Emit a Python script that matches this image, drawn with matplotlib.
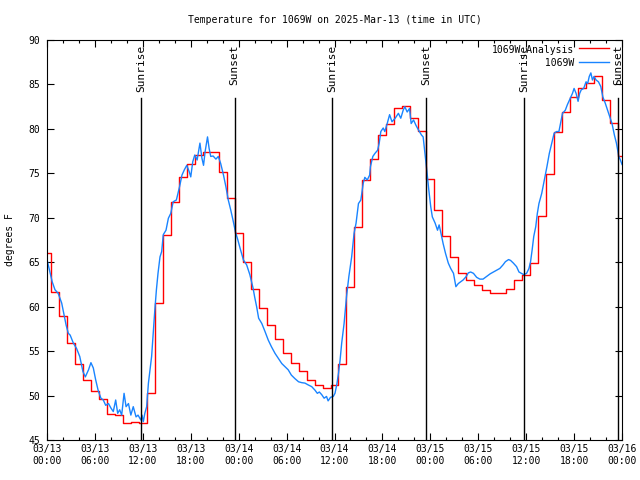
# temperature chart for station 1069W, analysis vs observed
import pandas as pd
import matplotlib
matplotlib.use('Agg')
import matplotlib.pyplot as plt
import matplotlib.dates as mdates

plt.rcParams['font.family'] = ['DejaVu Sans Mono']
plt.rcParams['font.size'] = 7

start = pd.Timestamp('2025-03-13 00:00')

# hourly analysis values (deg F), 03/13 00:00 .. 03/16 00:00
analysis_temp = [66.0, 61.6, 58.9, 55.9, 53.6, 51.7, 50.5, 49.6, 47.9, 47.8,
                 46.9, 47.0, 46.9, 50.3, 60.4, 68.1, 71.8, 74.55, 76.0, 77.06,
                 77.4, 77.4, 75.2, 72.2, 68.3, 65.0, 61.95, 59.8, 57.9, 56.4,
                 54.75, 53.7, 52.8, 51.8, 51.2, 50.8, 51.2, 53.6, 62.25, 69.0,
                 74.25, 76.6, 79.3, 80.6, 82.4, 82.6, 81.2, 79.8, 74.4, 70.9,
                 67.9, 65.6, 63.75, 63.0, 62.4, 61.9, 61.5, 61.5, 61.95, 63.0,
                 63.6, 64.9, 70.2, 74.9, 79.6, 81.9, 83.55, 84.55, 85.2, 85.95,
                 83.3, 80.7, 76.9]

# station observations: hours after start, temperature
obs_hours = [0.0, 0.37, 0.65, 1.0, 1.4, 1.84, 2.1, 2.4, 2.67, 2.9,
             3.3, 3.7, 4.1, 4.5, 4.8, 5.2, 5.5, 5.8, 6.1, 6.4,
             6.75, 7.05, 7.35, 7.7, 8.0, 8.3, 8.6, 8.85, 9.1, 9.35,
             9.65, 9.9, 10.2, 10.5, 10.8, 11.15, 11.4, 11.75, 11.9, 12.06,
             12.25, 12.48, 12.7, 12.9, 13.1, 13.3, 13.5, 13.7, 13.9, 14.15,
             14.36, 14.56, 14.9, 15.2, 15.5, 15.8, 16.2, 16.6, 16.9, 17.2,
             17.5, 17.8, 18.0, 18.25, 18.5, 18.8, 19.15, 19.4, 19.6, 19.8,
             20.1, 20.3, 20.5, 20.8, 21.15, 21.45, 21.75, 22.1, 22.4, 22.7,
             23.0, 23.3, 23.6, 23.9, 24.2, 24.6, 25.0, 25.4, 25.8, 26.0,
             26.25, 26.5, 26.9, 27.3, 27.7, 28.1, 28.55, 28.96, 29.4, 29.8,
             30.2, 30.6, 31.05, 31.5, 31.9, 32.3, 32.7, 33.15, 33.56, 33.85,
             34.1, 34.4, 34.7, 35.0, 35.2, 35.5, 35.85, 36.06, 36.3, 36.5,
             36.7, 36.9, 37.2, 37.5, 37.8, 38.15, 38.45, 38.7, 39.0, 39.3,
             39.6, 39.8, 40.1, 40.4, 40.5, 40.8, 41.07, 41.4, 41.6, 41.8,
             42.1, 42.3, 42.6, 42.9, 43.2, 43.6, 44.0, 44.3, 44.6, 44.8,
             45.1, 45.4, 45.6, 45.9, 46.2, 46.5, 46.9, 47.1, 47.3, 47.55,
             47.8, 48.05, 48.25, 48.6, 48.9, 49.1, 49.3, 49.6, 49.9, 50.25,
             50.55, 50.9, 51.2, 51.5, 51.8, 52.1, 52.5, 52.75, 53.05, 53.4,
             53.8, 54.2, 54.6, 55.06, 55.5, 55.9, 56.3, 56.7, 57.1, 57.4,
             57.8, 58.05, 58.4, 58.8, 59.1, 59.4, 59.7, 60.05, 60.35, 60.55,
             60.75, 60.95, 61.2, 61.4, 61.6, 61.95, 62.2, 62.6, 62.9, 63.2,
             63.5, 63.8, 64.1, 64.3, 64.55, 64.9, 65.15, 65.5, 65.8, 66.0,
             66.25, 66.5, 66.7, 66.9, 67.2, 67.5, 67.7, 67.9, 68.1, 68.3,
             68.5, 68.75, 69.05, 69.35, 69.6, 69.9, 70.2, 70.45, 70.75, 71.05,
             71.3, 71.6, 71.8, 72.0]
obs_temp = [65.3, 63.9, 62.8, 61.9, 61.5, 60.4, 59.25, 57.9, 57.0, 56.8,
            55.9, 55.3, 54.4, 52.7, 52.1, 52.9, 53.7, 53.1, 51.75, 50.6,
            49.7, 49.5, 48.9, 49.1, 48.6, 48.2, 49.5, 48.0, 48.4, 47.8,
            50.25, 48.75, 49.1, 47.8, 48.75, 47.6, 47.8, 47.25, 47.8, 47.06,
            48.0, 48.75, 51.4, 52.9, 54.4, 57.0, 59.6, 61.9, 63.75, 65.6,
            66.2, 68.1, 68.6, 69.95, 70.5, 71.8, 72.0, 73.5, 74.8, 75.4,
            75.9, 75.2, 74.6, 76.3, 77.06, 76.5, 78.4, 76.7, 75.9, 77.45,
            79.1, 77.8, 76.9, 76.95, 76.6, 76.9, 76.1, 74.8, 73.5, 72.0,
            70.9, 69.7, 68.4, 67.5, 66.5, 65.25, 64.7, 63.6, 62.1, 61.1,
            60.0, 58.7, 58.1, 57.2, 56.25, 55.5, 54.75, 54.2, 53.6, 53.25,
            52.9, 52.3, 51.9, 51.55, 51.45, 51.4, 51.2, 51.0, 50.6, 50.25,
            50.4, 50.1, 49.7, 49.9, 49.4, 49.8, 49.9, 50.25, 51.3, 52.5,
            54.0, 55.9, 58.1, 61.1, 63.4, 65.6, 68.25, 69.4, 71.6, 72.0,
            73.9, 74.55, 74.25, 74.8, 75.75, 76.9, 77.25, 77.6, 78.4, 79.7,
            80.1, 79.7, 80.6, 81.6, 80.8, 81.2, 81.75, 81.2, 82.1, 82.5,
            81.9, 82.3, 80.6, 81.0, 80.4, 79.9, 79.3, 79.1, 77.5, 75.4,
            73.2, 71.25, 70.1, 69.4, 68.6, 69.2, 68.4, 67.1, 66.0, 64.9,
            64.3, 63.75, 62.25, 62.6, 62.8, 63.0, 63.4, 63.8, 63.9, 63.75,
            63.3, 63.1, 63.1, 63.4, 63.7, 63.9, 64.1, 64.3, 64.7, 65.06,
            65.3, 65.2, 64.9, 64.5, 63.9, 63.75, 63.6, 63.75, 64.3, 65.06,
            66.4, 67.9, 69.0, 70.5, 71.6, 72.75, 73.9, 75.75, 77.25, 78.4,
            79.5, 79.7, 79.7, 80.6, 81.75, 82.1, 82.7, 83.4, 84.0, 84.55,
            84.0, 83.1, 84.0, 84.4, 84.55, 85.3, 85.1, 85.9, 86.3, 85.5,
            85.9, 85.5, 85.3, 84.75, 83.6, 82.9, 82.1, 81.4, 80.6, 79.3,
            78.4, 76.9, 76.5, 76.0]

sunrise = ['2025-03-13 11:45', '2025-03-14 11:44', '2025-03-15 11:42']
sunset = ['2025-03-13 23:29', '2025-03-14 23:28', '2025-03-15 23:32']

analysis_time = start + pd.to_timedelta(range(len(analysis_temp)), unit='h')
obs_time = start + pd.to_timedelta(obs_hours, unit='h')

fig = plt.figure(figsize=(6.4, 4.8), dpi=100)
ax = fig.add_axes([47/640, 40/480, 575/640, 400/480])

ax.plot(analysis_time, analysis_temp, color='#ff0000', lw=1.0,
        drawstyle='steps-mid', label='1069W_Analysis')
ax.plot(obs_time, obs_temp, color='#1984ff', lw=1.0, label='         1069W')

# sunrise / sunset markers
for name, times in (('Sunrise', sunrise), ('Sunset', sunset)):
    for t in times:
        t = pd.Timestamp(t)
        ax.axvline(t, ymin=0, ymax=0.856, color='black', lw=1.0, zorder=3)
        ax.text(t, 0.988, name, transform=ax.get_xaxis_transform(),
                rotation=90, ha='center', va='top', fontsize=8)

ax.set_xlim(start, start + pd.Timedelta(hours=72))
ax.set_ylim(45, 90)
ax.set_yticks(range(45, 91, 5))
ax.xaxis.set_major_locator(mdates.HourLocator(byhour=[0, 6, 12, 18]))
ax.xaxis.set_minor_locator(mdates.HourLocator(byhour=range(0, 24, 2)))
ax.xaxis.set_major_formatter(mdates.DateFormatter('%m/%d\n%H:%M'))

ax.tick_params(which='both', direction='in', top=True, right=True, width=0.8)
ax.tick_params(which='major', length=5)
ax.tick_params(which='minor', length=2.5)
ax.tick_params(axis='y', pad=5)
ax.tick_params(axis='x', pad=3)
for s in ax.spines.values():
    s.set_linewidth(0.8)

ax.set_title('Temperature for 1069W on 2025-Mar-13 (time in UTC)',
             fontsize=7, pad=12)
fig.text(10/640, 0.5, 'degrees F', rotation=90, ha='center', va='center')

ax.legend(loc='upper right', frameon=False, markerfirst=False, fontsize=7,
          handlelength=3.1, handletextpad=0.5, labelspacing=0.3,
          borderaxespad=0.2, borderpad=0.2, bbox_to_anchor=(0.985, 1.0))

fig.savefig('out.png', dpi=100)
